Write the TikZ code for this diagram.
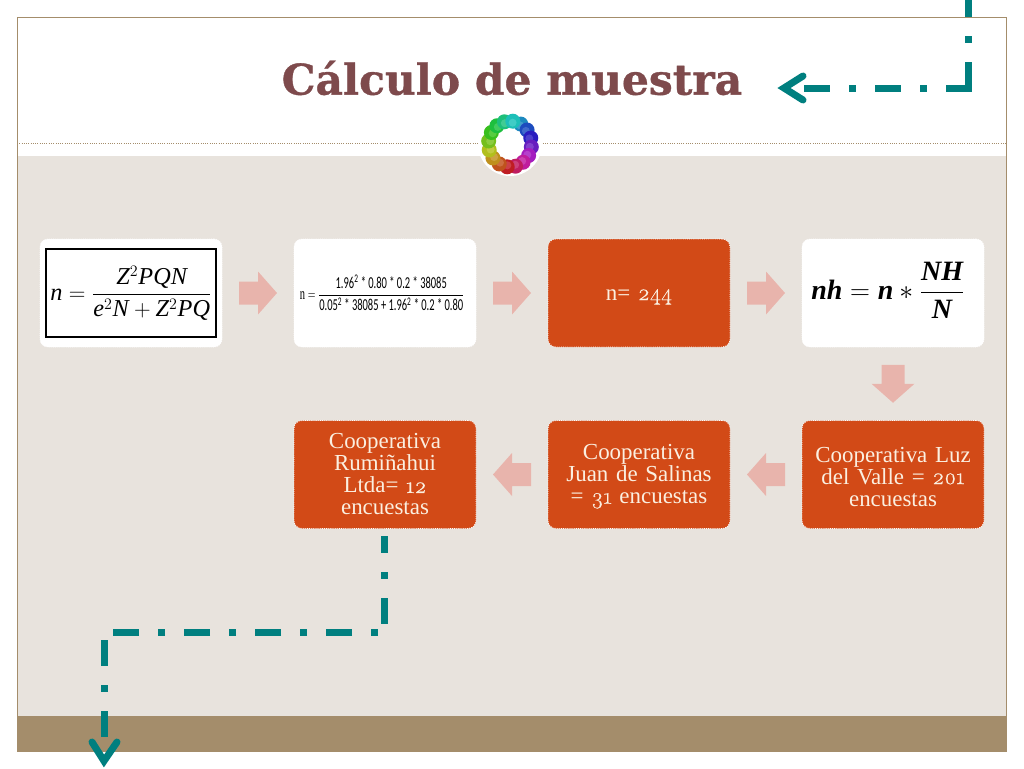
\documentclass[tikz,border=0pt]{standalone}
\usepackage{fontspec}
\usepackage{amsmath}
\setmainfont{Liberation Serif}
\newfontfamily\titlefont[BoldFeatures={FakeBold=0.8}]{DejaVu Serif}
\newfontfamily\valuefont{Carlito}
\newfontfamily\digitfont[Numbers=OldStyle,FakeBold=0.4]{Latin Modern Roman}
\usetikzlibrary{calc}
\definecolor{sandColor}{HTML}{E8E3DD}
\definecolor{barColor}{HTML}{A48D6B}
\definecolor{boxColor}{HTML}{D24A17}
\definecolor{creamColor}{HTML}{FBEFE0}
\definecolor{stepColor}{HTML}{E8B4AC}
\definecolor{tealColor}{HTML}{007F7F}
\definecolor{titleColor}{HTML}{7E4A4C}
\newcommand{\oldNum}[1]{{\digitfont #1}}
\newcommand{\mv}[1]{\mathit{#1}}
\newcommand{\bv}[1]{\text{\bfseries\itshape #1}}
\newcommand{\stepArrow}[2]{%
  \fill[stepColor,shift={(#1)},rotate=#2] (-19,-11.5) -- (0,-11.5) -- (0,-21.5) -- (19,0)
    -- (0,21.5) -- (0,11.5) -- (-19,11.5) -- cycle;
}
\begin{document}
\begin{tikzpicture}[%
  x=0.75pt,y=-0.75pt,%
  boxStyle/.style={draw=white,densely dotted,line width=0.6pt,rounded corners=6pt,minimum width=136.5pt,minimum height=81pt,text width=130pt,align=center,inner sep=0pt,font=\fontsize{17.2}{16.5}\selectfont},%
  orangeBox/.style={boxStyle,fill=boxColor,text=creamColor},%
  formulaBox/.style={boxStyle,fill=white,text=black},%
  routeStyle/.style={draw=tealColor,line width=5.25pt,dash pattern=on 19.5pt off 14.25pt on 5.25pt off 14.25pt},%
  routeDotFirst/.style={draw=tealColor,line width=5.25pt,dash pattern=on 5.25pt off 14.25pt on 19.5pt off 14.25pt},%
  headStyle/.style={draw=tealColor,line width=5.25pt,line cap=round,line join=miter}%
]
\useasboundingbox (0,0) rectangle (1024,768);
%
% Slide background.
\fill[white] (0,0) rectangle (1024,768);
\fill[sandColor] (17,156) rectangle (1006,716);
\fill[barColor] (17,716) rectangle (1006,751);
\draw[barColor,line width=0.7pt] (17,17) rectangle (1006,751);
\draw[barColor,densely dotted,line width=0.7pt] (17,143) -- (1006,143);
%
% Title.
\node[anchor=center,text=titleColor,font=\titlefont\bfseries\fontsize{31.8}{32}\selectfont] (title) at (512,78) {Cálculo de muestra};
%
% Ring of little people.
\fill[white] (510,144) circle (32);
\foreach \i in {0,...,15} {
  \pgfmathsetmacro{\hueValue}{mod(\i*22.5+200,360)/360}
  \definecolor{ringColor}{hsb}{\hueValue,0.85,0.75}
  \fill[ringColor] ({510+21.5*cos(\i*22.5-60)},{144+23*sin(\i*22.5-60)}) circle (7.5);
  \fill[ringColor!80!white] ({510+20*cos(\i*22.5-60)},{144+21.5*sin(\i*22.5-60)}) circle (4);
}
%
% First row.
\node[formulaBox] (formula) at (131,293) {};
\node[formulaBox] (values) at (385,293) {};
\node[orangeBox] (result) at (639,293) {\rule{0pt}{14pt}n= \oldNum{244}};
\node[formulaBox] (strata) at (893,293) {};
%
% Second row.
\node[orangeBox] (luz) at (893,474.5) {\rule{0pt}{14.5pt}Cooperativa Luz\\del Valle = \oldNum{201}\\encuestas};
\node[orangeBox] (juan) at (639,474.5) {\rule{0pt}{14.5pt}Cooperativa\\Juan de Salinas\\= \oldNum{31} encuestas};
\node[orangeBox] (rumi) at (385,474.5) {Cooperativa\\Rumiñahui\\Ltda= \oldNum{12}\\encuestas};
%
% Formula contents.
\node[draw=black,line width=1.5pt,fill=white,minimum width=127pt,minimum height=66pt,inner sep=0pt,font=\fontsize{18.2}{18.2}\selectfont] (boxedFormula) at (131,293) {$\mv{n}=\dfrac{\mv{Z}^{2}\mv{PQN}}{\mv{e}^{2}\mv{N}+\mv{Z}^{2}\mv{PQ}}$};
\node[inner sep=0pt,font=\valuefont\fontsize{12.5}{12.5}\selectfont] (valuesFormula) at (382,293) {\scalebox{0.63}[1]{$\mathrm{n}=\dfrac{\text{1.96\textsuperscript{2} * 0.80 * 0.2 * 38085}}{\text{0.05\textsuperscript{2} * 38085 + 1.96\textsuperscript{2} * 0.2 * 0.80}}$}};
\node[inner sep=0pt,font=\fontsize{21}{21}\selectfont] (strataFormula) at (888,290) {$\bv{nh}=\bv{n}*\dfrac{\bv{NH}}{\bv{N}}$};
%
% Arrows between the boxes.
\stepArrow{$(formula)!0.5!(values)$}{0}
\stepArrow{$(values)!0.5!(result)$}{0}
\stepArrow{$(result)!0.5!(strata)$}{0}
\stepArrow{$(strata)!0.5!(luz)$}{-90}
\stepArrow{$(luz)!0.5!(juan)$}{180}
\stepArrow{$(juan)!0.5!(rumi)$}{180}
%
% Teal routes.
\coordinate (topStart) at (968,-9);
\coordinate (topCorner) at (968,88);
\coordinate (topEnd) at (800,88);
\coordinate (topTip) at (784,88);
\coordinate (lowStart) at (384,536);
\coordinate (lowCorner) at (384,632);
\coordinate (lowTurn) at (378,632);
\coordinate (leftTurn) at (112,632);
\coordinate (leftStart) at (104,640);
\coordinate (lowEnd) at (104,737);
\coordinate (lowTip) at (104,761);
\draw[routeStyle] (topStart) -- (topCorner);
\draw[routeStyle] (topCorner) ++(3.5,0) -- (topEnd);
\draw[headStyle] (803,76) -- (topTip) -- (803,100);
\draw[routeStyle,dash phase=6.75pt] (lowStart) -- (lowCorner);
\draw[routeDotFirst] (lowTurn) -- (leftTurn);
\draw[routeStyle] (leftStart) -- (lowEnd);
\draw[headStyle] (92,742) -- (lowTip) -- (117,742);
\end{tikzpicture}
\end{document}
